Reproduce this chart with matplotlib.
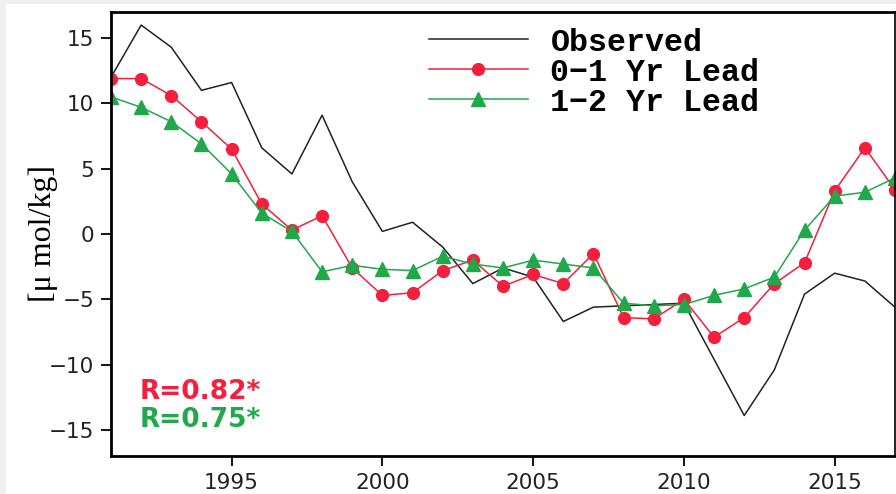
import numpy as np
import matplotlib
matplotlib.use('Agg')
import matplotlib.pyplot as plt
from matplotlib.patches import Rectangle

# Values, one per year 1991-2017
years = list(range(1991, 2018))
observed = [12.0, 16.0, 14.3, 11.0, 11.6, 6.6, 4.6, 9.1, 4.0, 0.2,
            0.9, -1.0, -3.8, -2.6, -3.3, -6.7, -5.6, -5.5, -5.4, -5.3,
            -9.6, -13.9, -10.4, -4.6, -3.0, -3.6, -5.6]
lead01 = [11.9, 11.9, 10.6, 8.6, 6.5, 2.3, 0.3, 1.4, -2.6, -4.7,
          -4.5, -2.8, -2.0, -4.0, -3.1, -3.8, -1.5, -6.4, -6.5, -5.0,
          -7.9, -6.4, -3.8, -2.2, 3.3, 6.6, 3.4]
lead12 = [10.5, 9.7, 8.6, 6.9, 4.6, 1.6, 0.2, -2.9, -2.4, -2.7,
          -2.8, -1.7, -2.3, -2.6, -2.0, -2.3, -2.6, -5.3, -5.5, -5.4,
          -4.7, -4.2, -3.3, 0.3, 2.9, 3.2, 4.3]
r_labels = ['R=0.82*', 'R=0.75*']
xticks = [1995, 2000, 2005, 2010, 2015]
yticks = [-15, -10, -5, 0, 5, 10, 15]

red = '#f41f3c'
green = '#21a84a'

fig = plt.figure(figsize=(8.96, 4.94), dpi=100, facecolor='#efefef')
fig.patches.append(Rectangle((6 / 896, 0), 1, 1 - 4 / 494, transform=fig.transFigure,
                             facecolor='white', edgecolor='none', zorder=-10))

ax = fig.add_axes([111 / 896, 38 / 494, 784 / 896, 444 / 494])
ax.set_facecolor('white')

ax.plot(years, observed, color='#222222', lw=1.1, label='Observed')
ax.plot(years, lead01, color=red, lw=1.1, marker='o', ms=8.5,
        markeredgecolor=red, label='0\u22121 Yr Lead')
ax.plot(years, lead12, color=green, lw=1.1, marker='^', ms=10,
        markeredgecolor=green, label='1\u22122 Yr Lead')

ax.set_xlim(1991, 2017)
ax.set_ylim(-17, 17)
ax.set_xticks(xticks)
ax.set_yticks(yticks)
ax.tick_params(direction='out', length=7, width=1.3, labelsize=15.5, pad=5)
for lab in ax.get_xticklabels() + ax.get_yticklabels():
    lab.set_color('#222222')
for side in ['left', 'bottom', 'top', 'right']:
    ax.spines[side].set_linewidth(2)
ax.spines['right'].set_linewidth(1.2)

ax.set_ylabel('[\u03bc mol/kg]', family='Liberation Serif', fontsize=23, labelpad=0)
ax.yaxis.set_label_coords(-0.068, 0.5)

leg = ax.legend(loc='upper left', bbox_to_anchor=(0.405, 0.965), frameon=False,
                prop={'family': 'Liberation Mono', 'weight': 'bold', 'size': 22.8},
                handlelength=3.15, handletextpad=0.7, labelspacing=0.0,
                borderpad=0, borderaxespad=0)

ax.text(0.037, 0.145, r_labels[0], transform=ax.transAxes, color=red,
        fontsize=19, fontweight='bold', va='center')
ax.text(0.037, 0.082, r_labels[1], transform=ax.transAxes, color=green,
        fontsize=19, fontweight='bold', va='center')

fig.savefig('out.png', dpi=100, facecolor=fig.get_facecolor())
